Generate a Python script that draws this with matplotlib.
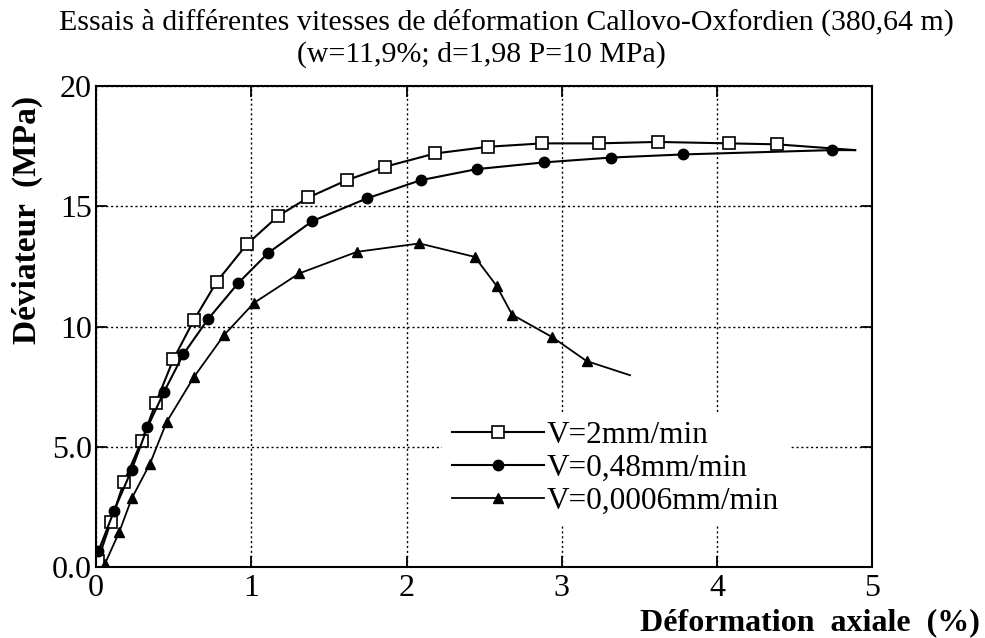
import matplotlib.pyplot as plt

# Values
x_v2 = [0.01, 0.095, 0.18, 0.294, 0.385, 0.498, 0.63, 0.777, 0.971, 1.175, 1.368,
        1.615, 1.862, 2.184, 2.528, 2.876, 3.237, 3.617, 4.079, 4.386, 4.89]
y_v2 = [0.25, 1.88, 3.55, 5.25, 6.83, 8.64, 10.27, 11.86, 13.42, 14.61, 15.37,
        16.09, 16.65, 17.20, 17.48, 17.62, 17.62, 17.68, 17.62, 17.58, 17.34]

x_v048 = [0.015, 0.116, 0.230, 0.331, 0.438, 0.563, 0.72, 0.917, 1.110, 1.394,
          1.744, 2.092, 2.453, 2.887, 3.316, 3.780, 4.740, 4.89]
y_v048 = [0.66, 2.34, 4.06, 5.81, 7.29, 8.86, 10.3, 11.82, 13.07, 14.39,
          15.33, 16.09, 16.55, 16.83, 17.03, 17.16, 17.34, 17.34]

x_v0006 = [0.058, 0.150, 0.230, 0.348, 0.455, 0.631, 0.826, 1.018, 1.308, 1.680,
           2.083, 2.44, 2.58, 2.68, 2.94, 3.16, 3.44]
y_v0006 = [0.15, 1.47, 2.86, 4.31, 6.04, 7.91, 9.66, 10.99, 12.21, 13.11,
           13.46, 12.9, 11.7, 10.5, 9.56, 8.57, 7.98]

labels = ["V=2mm/min", "V=0,48mm/min", "V=0,0006mm/min"]
x_ticks = [0, 1, 2, 3, 4, 5]
y_ticks = [0, 5, 10, 15, 20]
y_tick_labels = ["0.0", "5.0", "10", "15", "20"]

plt.rcParams['font.family'] = ['Liberation Serif', 'DejaVu Serif']

fig = plt.figure(figsize=(9.85, 6.38), dpi=100)
ax = fig.add_axes([0.0975, 0.111, 0.788, 0.754])

# last point of each series is only the end of the drawn curve, no marker there
ax.plot(x_v2, y_v2, color='black', lw=1.5, marker='s', ms=8,
        mfc='white', mec='black', mew=1.2, markevery=list(range(len(x_v2) - 1)),
        label=labels[0])
ax.plot(x_v048, y_v048, color='black', lw=1.5, marker='o', ms=7.5,
        mfc='black', mec='black', markevery=list(range(len(x_v048) - 1)),
        label=labels[1])
ax.plot(x_v0006, y_v0006, color='black', lw=1.3, marker='^', ms=7.5,
        mfc='black', mec='black', markevery=list(range(len(x_v0006) - 1)),
        label=labels[2])

ax.set_xlim(0, 5)
ax.set_ylim(0, 20)
ax.set_xticks(x_ticks)
ax.set_yticks(y_ticks)
ax.set_yticklabels(y_tick_labels)
ax.tick_params(direction='in', length=8, width=1.3, top=True, right=True,
               labelsize=23)
ax.tick_params(axis='x', pad=5)
ax.tick_params(axis='y', pad=3)
ax.grid(True, color='black', linestyle=(0, (1.5, 2.0)), lw=1.0)
for s in ax.spines.values():
    s.set_linewidth(1.5)

leg = ax.legend(loc='upper left', bbox_to_anchor=(0.446, 0.323), frameon=True,
                fontsize=22.5, handlelength=2.95, labelspacing=0.12,
                handletextpad=0.1, borderpad=0.3, borderaxespad=0, fancybox=False)
leg.get_frame().set_facecolor('white')
leg.get_frame().set_edgecolor('none')
leg.get_frame().set_alpha(1)

fig.text(0.514, 0.953, "Essais à différentes vitesses de déformation Callovo-Oxfordien (380,64 m)",
         ha='center', va='baseline', fontsize=21.5)
fig.text(0.489, 0.903, "(w=11,9%; d=1,98 P=10 MPa)", ha='center', va='baseline',
         fontsize=21.5)
fig.text(0.0274, 0.655, "Déviateur  (MPa)", rotation=90, ha='center', va='center',
         fontsize=24, fontweight='bold')
fig.text(0.995, 0.012, "Déformation  axiale  (%)", ha='right', va='baseline',
         fontsize=23, fontweight='bold')

fig.savefig("out.png", dpi=100)
